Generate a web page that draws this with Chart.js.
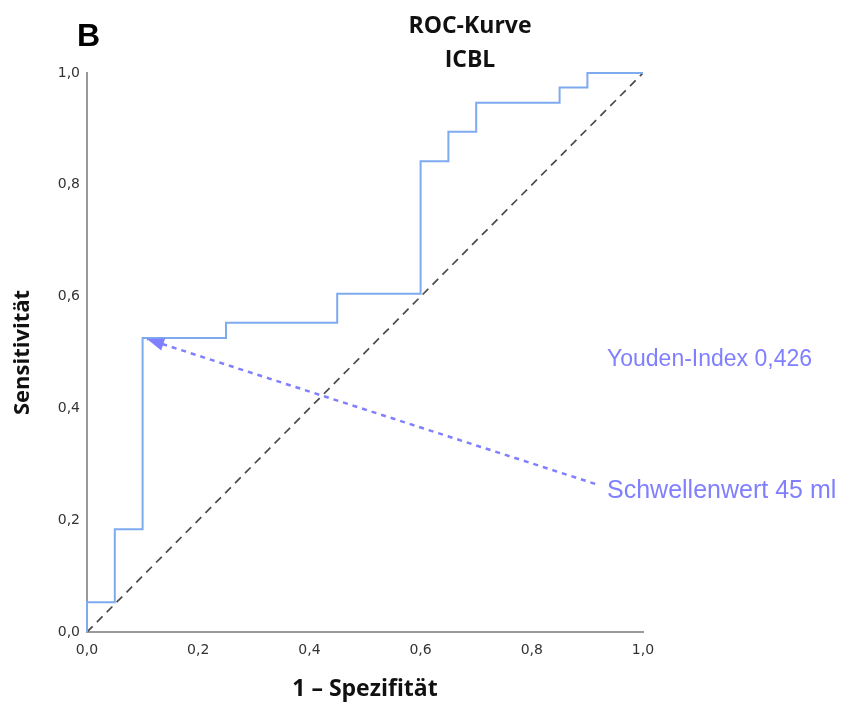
<!DOCTYPE html>
<html>
<head>
<meta charset="utf-8">
<title>ROC-Kurve ICBL</title>
<script src="https://cdn.jsdelivr.net/npm/chart.js@4.4.1/dist/chart.umd.min.js"></script>
<style>
    html, body { margin: 0; padding: 0; background: #fff; }
    #wrap { width: 849px; height: 704px; }
</style>
</head>
<body>
<div id="wrap"><canvas id="roc-chart" width="849" height="704"></canvas></div>
<script>
    // ROC data (1 - Spezifitaet / Sensitivitaet)
    var fpr = [0, 0, 0.05, 0.05, 0.10, 0.10, 0.25, 0.25, 0.45, 0.45, 0.60, 0.60, 0.65, 0.65, 0.70, 0.70, 0.85, 0.85, 0.90, 0.90, 1.00];
    var tpr = [0, 0.053, 0.053, 0.184, 0.184, 0.526, 0.526, 0.553, 0.553, 0.605, 0.605, 0.842, 0.842, 0.895, 0.895, 0.947, 0.947, 0.974, 0.974, 1.00, 1.00];

    // Reference line
    var refX = [0, 1];
    var refY = [0, 1];

    // Arrow to the Youden point (start -> tip)
    var arrowX = [0.914, 0.108];
    var arrowY = [0.265, 0.524];

    var tickValues = [0, 0.2, 0.4, 0.6, 0.8, 1.0];

    function toPoints(xs, ys) {
        var pts = [];
        for (var i = 0; i < xs.length; i++) {
            pts.push({x: xs[i], y: ys[i]});
        }
        return pts;
    }

    function fmt(v) {
        return v.toFixed(1).replace('.', ',');
    }

    // Texts, arrow head
    var extras = {
        id: 'extras',
        afterDatasetsDraw: function (chart) {
            var ctx = chart.ctx;
            var xs = chart.scales.x, ys = chart.scales.y;

            // arrow head
            var x0 = xs.getPixelForValue(arrowX[0]), y0 = ys.getPixelForValue(arrowY[0]);
            var x1 = xs.getPixelForValue(arrowX[1]), y1 = ys.getPixelForValue(arrowY[1]);
            var a = Math.atan2(y1 - y0, x1 - x0);
            var len = 17, half = 6.5;
            ctx.save();
            ctx.fillStyle = '#7f7fff';
            ctx.beginPath();
            ctx.moveTo(x1, y1);
            ctx.lineTo(x1 - len * Math.cos(a) + half * Math.sin(a), y1 - len * Math.sin(a) - half * Math.cos(a));
            ctx.lineTo(x1 - len * Math.cos(a) - half * Math.sin(a), y1 - len * Math.sin(a) + half * Math.cos(a));
            ctx.closePath();
            ctx.fill();

            // annotation labels
            var right = chart.chartArea.right;
            ctx.font = '23px "Liberation Sans", Arial, sans-serif';
            ctx.textAlign = 'left';
            ctx.textBaseline = 'alphabetic';
            ctx.fillText('Youden-Index 0,426', right - 36, 366);
            ctx.font = '25px "Liberation Sans", Arial, sans-serif';
            ctx.fillText('Schwellenwert 45 ml', right - 36, 498);

            // panel letter and title
            ctx.fillStyle = '#000';
            ctx.font = 'bold 32px "Liberation Sans", Arial, sans-serif';
            ctx.fillText('B', 77, 46);
            ctx.fillStyle = '#111';
            ctx.textAlign = 'center';
            ctx.font = 'bold 23px "Open Sans", sans-serif';
            ctx.fillText('ROC-Kurve', 470, 33);
            ctx.fillText('ICBL', 470, 67);
            ctx.restore();
        }
    };

    var ctx1 = document.getElementById('roc-chart').getContext('2d');
    var myChart1 = new Chart(ctx1, {
        type: 'scatter',
        data: {
            datasets: [{
                label: 'ROC',
                data: toPoints(fpr, tpr),
                showLine: true,
                borderColor: '#7eaaf0',
                borderWidth: 2,
                pointRadius: 0,
                clip: 4,
                order: 1
            }, {
                label: 'Referenz',
                data: toPoints(refX, refY),
                showLine: true,
                borderColor: '#4a4a4a',
                borderWidth: 1.7,
                borderDash: [8, 6],
                pointRadius: 0,
                order: 2
            }, {
                label: 'Pfeil',
                data: toPoints(arrowX, arrowY),
                showLine: true,
                borderColor: '#7f7fff',
                borderWidth: 2.5,
                borderDash: [5, 5],
                pointRadius: 0,
                order: 0
            }]
        },
        options: {
            responsive: false,
            animation: false,
            layout: {
                padding: {left: 0, right: 206, top: 73, bottom: 0}
            },
            plugins: {
                legend: {display: false},
                tooltip: {enabled: false}
            },
            scales: {
                x: {
                    type: 'linear',
                    min: 0,
                    max: 1,
                    afterFit: function (scale) { scale.height = 72; },
                    afterBuildTicks: function (scale) {
                        scale.ticks = tickValues.map(function (v) { return {value: v}; });
                    },
                    grid: {display: false, drawTicks: false},
                    border: {display: true, color: '#9a9a9a', width: 2},
                    ticks: {
                        padding: 10,
                        color: '#333',
                        font: {family: '"DejaVu Sans", sans-serif', size: 14},
                        callback: function (v) { return fmt(v); }
                    },
                    title: {
                        display: true,
                        text: '1 \u2013 Spezifit\u00e4t',
                        color: '#111',
                        font: {family: '"Open Sans", sans-serif', size: 23, weight: 'bold'},
                        padding: {top: 0, bottom: 1}
                    }
                },
                y: {
                    type: 'linear',
                    min: 0,
                    max: 1,
                    afterFit: function (scale) { scale.width = 87; },
                    afterBuildTicks: function (scale) {
                        scale.ticks = tickValues.map(function (v) { return {value: v}; });
                    },
                    grid: {display: false, drawTicks: false},
                    border: {display: true, color: '#9a9a9a', width: 2},
                    ticks: {
                        padding: 7,
                        color: '#333',
                        font: {family: '"DejaVu Sans", sans-serif', size: 14},
                        callback: function (v) { return fmt(v); }
                    },
                    title: {
                        display: true,
                        text: 'Sensitivit\u00e4t',
                        color: '#111',
                        font: {family: '"Open Sans", sans-serif', size: 22, weight: 'bold'},
                        padding: {top: 10, bottom: 0}
                    }
                }
            }
        },
        plugins: [extras]
    });
</script>
</body>
</html>
